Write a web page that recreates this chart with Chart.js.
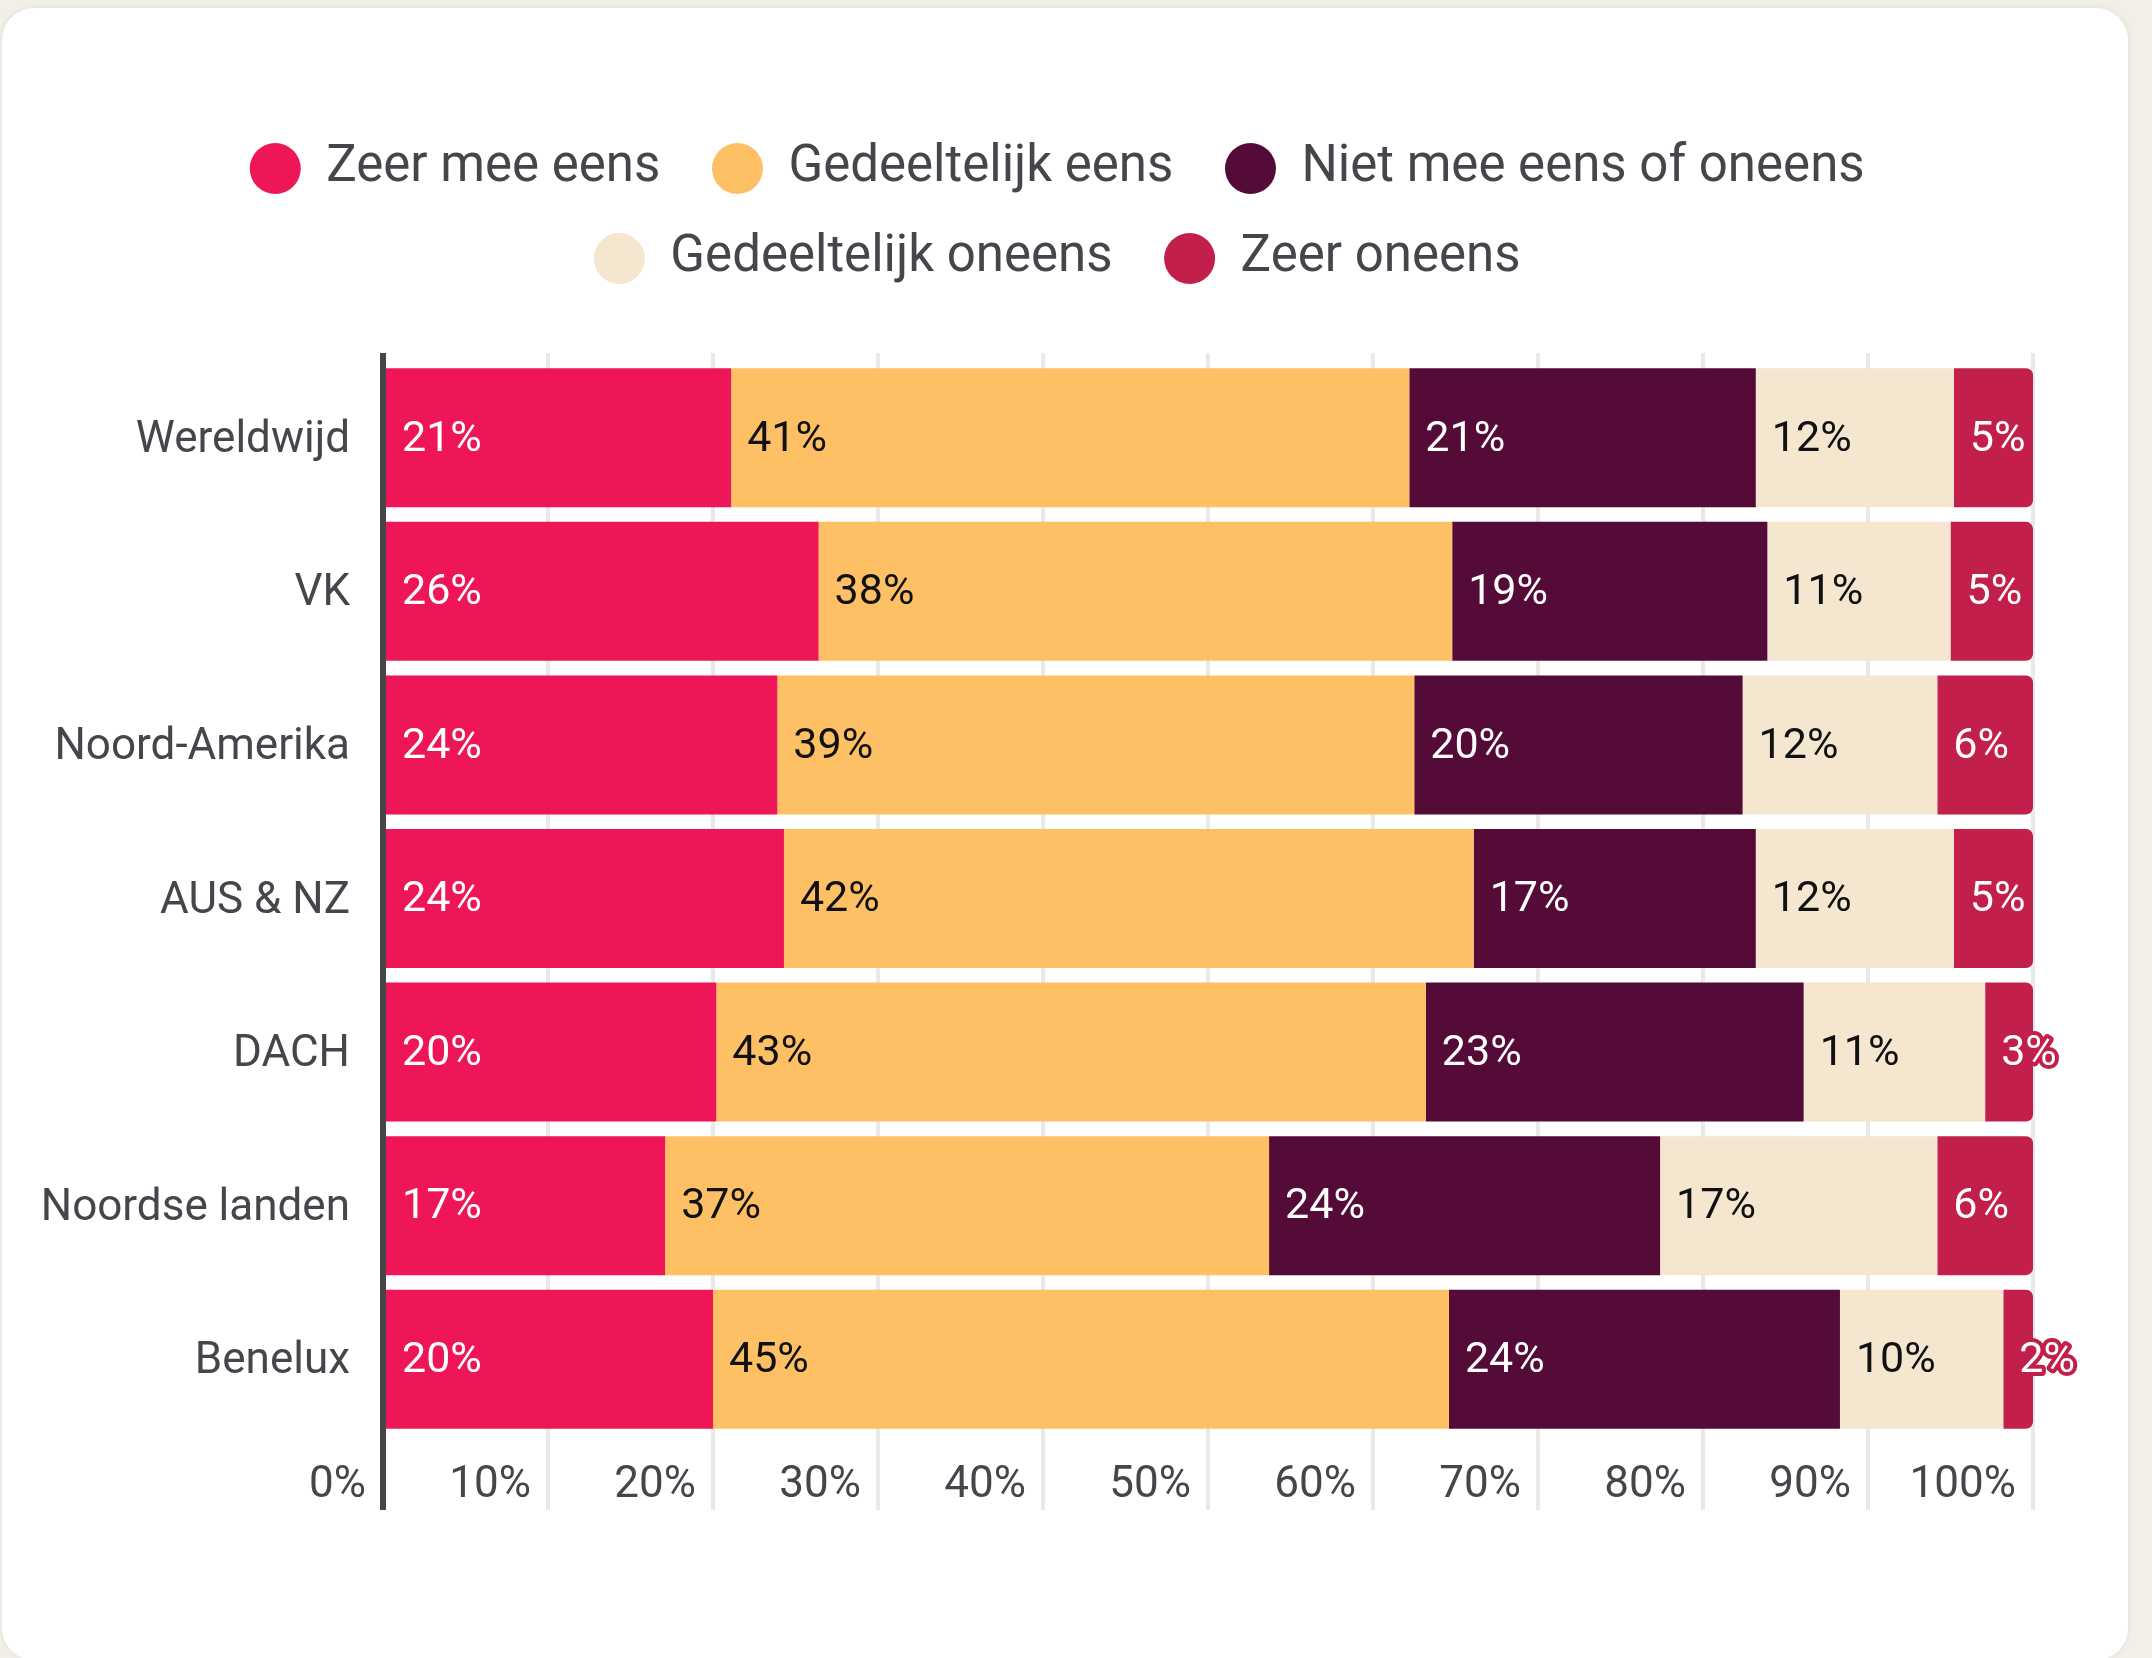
<!DOCTYPE html>
<html>
<head>
<meta charset="utf-8">
<script src="https://cdn.jsdelivr.net/npm/chart.js@4.4.1/dist/chart.umd.min.js"></script>
<style>
  html, body { margin: 0; padding: 0; background: #f2f0e6; overflow: hidden; }
  .card {
    position: absolute; left: 2px; top: 8px; width: 2126px; height: 1652px;
    background: #fff; border-radius: 32px; box-shadow: 0 0 6px rgba(0, 0, 0, 0.08);
    overflow: hidden;
  }
  canvas { display: block; }
</style>
</head>
<body>
<div class="card"><canvas id="chart" width="2126" height="1652"></canvas></div>
<script>
  var categories = ['Wereldwijd', 'VK', 'Noord-Amerika', 'AUS & NZ', 'DACH', 'Noordse landen', 'Benelux'];
  var seriesNames = ['Zeer mee eens', 'Gedeeltelijk eens', 'Niet mee eens of oneens', 'Gedeeltelijk oneens', 'Zeer oneens'];

  var zeerMeeEens = [21.1, 26.4, 23.9, 24.3, 20.2, 17.1, 20.0];
  var gedeeltelijkEens = [41.1, 38.4, 38.6, 41.8, 43.0, 36.6, 44.6];
  var neutraal = [21.0, 19.1, 19.9, 17.1, 22.9, 23.7, 23.7];
  var gedeeltelijkOneens = [12.0, 11.1, 11.8, 12.0, 11.0, 16.8, 9.9];
  var zeerOneens = [4.8, 5.0, 5.8, 4.8, 2.9, 5.8, 1.8];

  var seriesColors = ['#ee1656', '#fdc065', '#540b37', '#f5e6d0', '#c21f4b'];
  var labelColors = ['#ffffff', '#111111', '#ffffff', '#111111', '#ffffff'];
  var textColor = '#46454c';
  var gridColor = '#e9e9e9';

  Chart.defaults.font.family = 'Roboto';
  Chart.defaults.color = textColor;

  var allSeries = [zeerMeeEens, gedeeltelijkEens, neutraal, gedeeltelijkOneens, zeerOneens];

  var datasets = allSeries.map(function (values, i) {
    return {
      label: seriesNames[i],
      data: values,
      backgroundColor: seriesColors[i],
      borderWidth: 0,
      borderRadius: i === allSeries.length - 1 ? 7 : 0,
      categoryPercentage: 1,
      barPercentage: 0.905
    };
  });

  // percentage text at the start of every segment, with a halo in the segment colour
  var segmentLabels = {
    id: 'segmentLabels',
    afterDatasetsDraw: function (chart) {
      var ctx = chart.ctx;
      ctx.save();
      ctx.font = '43px Roboto';
      ctx.textAlign = 'left';
      ctx.textBaseline = 'middle';
      ctx.lineJoin = 'round';
      chart.data.datasets.forEach(function (ds, i) {
        chart.getDatasetMeta(i).data.forEach(function (bar, j) {
          var p = bar.getProps(['x', 'base', 'y'], true);
          var x = Math.min(p.x, p.base) + 16;
          var y = p.y + 2;
          var text = Math.round(ds.data[j]) + '%';
          ctx.lineWidth = 8;
          ctx.strokeStyle = ds.backgroundColor;
          ctx.strokeText(text, x, y);
          ctx.fillStyle = labelColors[i];
          ctx.fillText(text, x, y);
        });
      });
      ctx.restore();
    }
  };

  // the legend is centred over the bars rather than over the whole card
  var legendShift = {
    id: 'legendShift',
    afterLayout: function (chart) {
      chart.legend.left += 32;
      chart.legend.right += 32;
    }
  };

  function gridLineColor(c) {
    return c.tick && c.tick.value === 0 ? textColor : gridColor;
  }
  function gridLineWidth(c) {
    return c.tick && c.tick.value === 0 ? 6 : 4;
  }

  new Chart(document.getElementById('chart').getContext('2d'), {
    type: 'bar',
    data: { labels: categories, datasets: datasets },
    plugins: [segmentLabels, legendShift],
    options: {
      indexAxis: 'y',
      responsive: false,
      animation: false,
      layout: { padding: { top: 96, left: 28, right: 95, bottom: 144 } },
      plugins: {
        tooltip: { enabled: false },
        legend: {
          position: 'top',
          labels: {
            usePointStyle: true,
            pointStyle: 'circle',
            boxHeight: 36,
            pointStyleWidth: 51,
            padding: 39,
            color: textColor,
            font: { size: 51 },
            generateLabels: function (chart) {
              var items = Chart.defaults.plugins.legend.labels.generateLabels(chart);
              items.forEach(function (item) { item.text = item.text + ' '; });
              return items;
            }
          }
        }
      },
      scales: {
        x: {
          stacked: true,
          min: 0,
          max: 100,
          border: { display: false },
          grid: { color: gridLineColor, lineWidth: gridLineWidth, drawTicks: true, tickLength: 74 },
          ticks: {
            stepSize: 10,
            autoSkip: false,
            maxRotation: 0,
            align: 'end',
            labelOffset: -17,
            padding: -50,
            color: textColor,
            font: { size: 44 },
            callback: function (v) { return v + '%'; }
          },
          afterFit: function (scale) { scale.height = 80; }
        },
        x2: {
          type: 'linear',
          position: 'top',
          min: 0,
          max: 100,
          border: { display: false },
          grid: { color: gridLineColor, lineWidth: gridLineWidth, drawOnChartArea: false, drawTicks: true, tickLength: 8 },
          ticks: { display: false, stepSize: 10 },
          afterFit: function (scale) { scale.height = 67; }
        },
        y: {
          stacked: true,
          grid: { display: false, drawTicks: false },
          border: { display: true, color: textColor, width: 6, z: 1 },
          ticks: { padding: 33, labelOffset: 3, color: textColor, font: { size: 44 } },
          afterFit: function (scale) { scale.width = 353; }
        }
      }
    }
  });
</script>
</body>
</html>
